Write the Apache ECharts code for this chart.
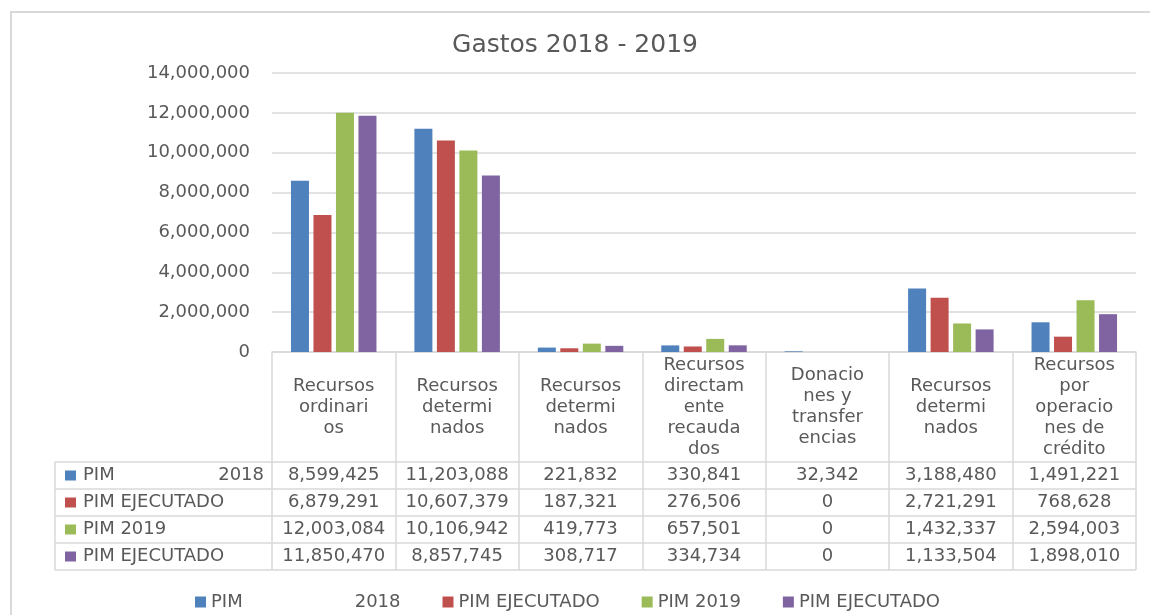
<!DOCTYPE html>
<html>
<head>
<meta charset="utf-8">
<script src="https://cdn.jsdelivr.net/npm/echarts@6/dist/echarts.min.js"></script>
<style>
html,body{margin:0;padding:0;background:#fff}
#main{width:1150px;height:615px}
</style>
</head>
<body>
<div id="main"></div>
<script>
// categorias (con los cortes de linea como en la tabla original)
var categories = [
	'Recursos\nordinari\nos',
	'Recursos\ndetermi\nnados',
	'Recursos\ndetermi\nnados',
	'Recursos\ndirectam\nente\nrecauda\ndos',
	'Donacio\nnes y\ntransfer\nencias',
	'Recursos\ndetermi\nnados',
	'Recursos\npor\noperacio\nnes de\ncrédito'
]
var pim2018 = [8599425, 11203088, 221832, 330841, 32342, 3188480, 1491221]
var ejec2018 = [6879291, 10607379, 187321, 276506, 0, 2721291, 768628]
var pim2019 = [12003084, 10106942, 419773, 657501, 0, 1432337, 2594003]
var ejec2019 = [11850470, 8857745, 308717, 334734, 0, 1133504, 1898010]
var yTicks = [0, 2000000, 4000000, 6000000, 8000000, 10000000, 12000000, 14000000]

var seriesNames = ['PIM 2018', 'PIM EJECUTADO 2018', 'PIM 2019', 'PIM EJECUTADO 2019']
var colors = ['#4F81BD', '#C0504D', '#9BBB59', '#8064A2']
var allData = [pim2018, ejec2018, pim2019, ejec2019]

var chart = echarts.init(document.getElementById('main'))

var gridL = 272, gridR = 1136, axisY = 352
var colW = (gridR - gridL) / categories.length
var rowTop = 462, rowH = 27
var tableL = 55
var txt = '#595959'
var line = '#d9d9d9'
var font = 'DejaVu Sans'

function fmt(v){
	return v.toLocaleString('en-US')
}

// tabla de datos debajo del eje
var graphics = []
// marco exterior
graphics.push({
	type:'rect', silent:true,
	shape:{x:11, y:12, width:1160, height:640},
	style:{fill:null, stroke:line, lineWidth:2}
})
for(var r = 0; r <= 4; r++){
	graphics.push({
		type:'line', silent:true,
		shape:{x1:tableL, y1:rowTop + r*rowH, x2:gridR, y2:rowTop + r*rowH},
		style:{stroke:line, lineWidth:1.5}
	})
}
graphics.push({
	type:'line', silent:true,
	shape:{x1:tableL, y1:rowTop, x2:tableL, y2:rowTop + 4*rowH},
	style:{stroke:line, lineWidth:1.5}
})
for(var r = 0; r < 4; r++){
	var cy = rowTop + r*rowH + rowH/2
	graphics.push({
		type:'rect', silent:true,
		shape:{x:65, y:cy-5, width:11, height:10},
		style:{fill:colors[r]}
	})
	var lbl = r == 0 ? 'PIM' : (r == 2 ? 'PIM 2019' : 'PIM EJECUTADO')
	graphics.push({
		type:'text', silent:true, x:83, y:cy,
		style:{text:lbl, fill:txt, font:'18px ' + font, verticalAlign:'middle'}
	})
	if(r == 0){
		graphics.push({
			type:'text', silent:true, x:264, y:cy,
			style:{text:'2018', fill:txt, font:'18px ' + font, align:'right', verticalAlign:'middle'}
		})
	}
	for(var c = 0; c < categories.length; c++){
		graphics.push({
			type:'text', silent:true, x:gridL + colW*(c+0.5), y:cy,
			style:{text:fmt(allData[r][c]), fill:txt, font:'18px ' + font, align:'center', verticalAlign:'middle'}
		})
	}
}

var series = []
for(var i = 0; i < 4; i++){
	series.push({
		name:seriesNames[i],
		type:'bar',
		barWidth:18,
		barGap:'25%',
		itemStyle:{color:colors[i]},
		data:allData[i]
	})
}

option = {
	animation:false,
	title:{
		text:'Gastos 2018 - 2019',
		left:'center',
		top:28,
		textStyle:{color:txt, fontFamily:font, fontSize:25, fontWeight:'normal'}
	},
	legend:{
		left:190,
		top:588,
		icon:'rect',
		itemWidth:11,
		itemHeight:11,
		itemGap:42,
		data:seriesNames,
		formatter:function(name){
			if(name == 'PIM 2018') return 'PIM{gap|}2018'
			if(name == 'PIM 2019') return 'PIM 2019'
			return 'PIM EJECUTADO'
		},
		textStyle:{
			color:txt, fontFamily:font, fontSize:18,
			rich:{gap:{width:112}}
		}
	},
	grid:{left:gridL, right:1150-gridR, top:73, bottom:615-axisY},
	xAxis:{
		type:'category',
		data:categories,
		axisLine:{lineStyle:{color:line, width:1.5}},
		axisTick:{show:true, alignWithLabel:false, interval:0, length:218, lineStyle:{color:line, width:1.5}},
		axisLabel:{
			interval:0, margin:55, verticalAlign:'middle', lineHeight:21,
			color:txt, fontFamily:font, fontSize:18, align:'center'
		}
	},
	yAxis:{
		type:'value',
		min:yTicks[0],
		max:yTicks[yTicks.length-1],
		interval:yTicks[1]-yTicks[0],
		axisLine:{show:false},
		axisTick:{show:false},
		splitLine:{lineStyle:{color:line, width:1.5}},
		axisLabel:{
			margin:22, color:txt, fontFamily:font, fontSize:18,
			formatter:function(v){ return fmt(v) }
		}
	},
	graphic:graphics,
	series:series
}

chart.setOption(option)
</script>
</body>
</html>
